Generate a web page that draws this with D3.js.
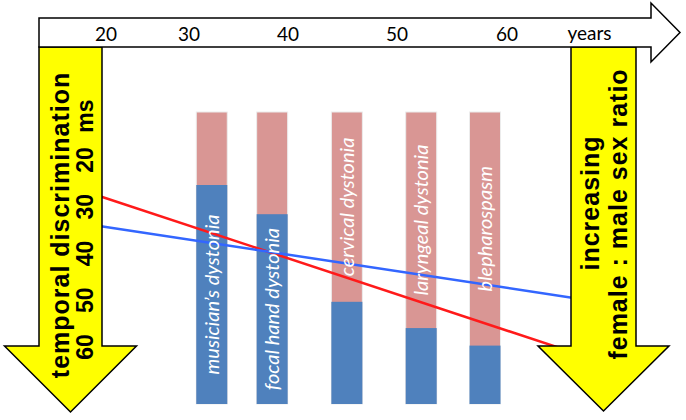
<!DOCTYPE html>
<html>
<head>
<meta charset="utf-8">
<script src="https://cdn.jsdelivr.net/npm/d3@7"></script>
<style>
  html, body { margin: 0; padding: 0; background: #fff; }
  svg { display: block; }
</style>
</head>
<body>
<div id="chart"></div>
<script>
(function() {
	'use strict';

	// Age of onset axis (top arrow)
	const ageTicks = [20, 30, 40, 50, 60];
	// Temporal discrimination threshold axis (left arrow), ms
	const msTicks = [60, 50, 40, 30, 20];

	// Dystonia types, mean age of onset, percentage male
	const disorders = ['musician’s dystonia', 'focal hand dystonia', 'cervical dystonia', 'laryngeal dystonia', 'blepharospasm'];
	const onsetAge = [32.3, 38.4, 45.4, 52.2, 58.0];
	const malePct = [75, 65, 35, 26, 20];

	// Temporal discrimination trend lines: [age, ms]
	const redLine = [[18, 27.0], [68, 62.7]];
	const blueLine = [[18, 33.8], [68, 50.2]];

	const width = 686;
	const height = 420;

	const svg = d3.select('#chart').append('svg')
		.attr('width', width)
		.attr('height', height);

	const x = d3.scaleLinear().domain(ageTicks).range([106, 189, 288, 397, 507]);
	const yMs = d3.scaleLinear().domain([20, 60]).range([160, 347]);
	const yPct = d3.scaleLinear().domain([0, 100]).range([404, 112]);

	const pink = '#d99694';
	const blue = '#4f81bd';
	const barW = 31;

	const barData = disorders.map((name, i) => ({ name, age: onsetAge[i], male: malePct[i] }));

	// Bars: pink (female) on top, blue (male) from the bottom
	const bars = svg.append('g').selectAll('g')
		.data(barData)
		.enter()
		.append('g');

	bars.append('rect')
		.attr('x', d => x(d.age) - barW / 2)
		.attr('y', yPct(100))
		.attr('width', barW)
		.attr('height', yPct(0) - yPct(100))
		.attr('fill', pink)
		.attr('stroke', '#ececec')
		.attr('stroke-width', 1);

	bars.append('rect')
		.attr('x', d => x(d.age) - barW / 2)
		.attr('y', d => yPct(d.male))
		.attr('width', barW)
		.attr('height', d => yPct(0) - yPct(d.male))
		.attr('fill', blue);

	// Trend lines
	const line = d3.line()
		.x(d => x(d[0]))
		.y(d => yMs(d[1]));

	svg.append('path')
		.attr('d', line(redLine))
		.attr('fill', 'none')
		.attr('stroke', '#ff1a1a')
		.attr('stroke-width', 2.5);

	svg.append('path')
		.attr('d', line(blueLine))
		.attr('fill', 'none')
		.attr('stroke', '#3366ff')
		.attr('stroke-width', 2.5);

	// Bar labels sit in the larger of the two segments
	svg.append('g').selectAll('text')
		.data(barData)
		.enter()
		.append('text')
		.attr('transform', d => {
			const cy = d.male >= 50 ? (yPct(d.male) + yPct(0)) / 2 : (yPct(100) + yPct(d.male)) / 2;
			return `translate(${x(d.age)}, ${cy}) rotate(-90)`;
		})
		.attr('text-anchor', 'middle')
		.attr('dy', '0.35em')
		.style('font-family', 'Lato, "Open Sans", sans-serif')
		.style('font-style', 'italic')
		.style('font-size', '20px')
		.style('fill', '#fff')
		.text(d => d.name);

	// Down arrows
	function downArrow(cx, top, baseY, tipY, shaftHalf, headHalf) {
		const p = d3.path();
		p.moveTo(cx - shaftHalf, top);
		p.lineTo(cx + shaftHalf, top);
		p.lineTo(cx + shaftHalf, baseY);
		p.lineTo(cx + headHalf, baseY);
		p.lineTo(cx, tipY);
		p.lineTo(cx - headHalf, baseY);
		p.lineTo(cx - shaftHalf, baseY);
		p.closePath();
		return p.toString();
	}

	svg.append('path')
		.attr('d', downArrow(70.5, 47, 346, 412, 31.5, 66))
		.attr('fill', '#ffff00')
		.attr('stroke', '#000')
		.attr('stroke-width', 1.5);

	svg.append('path')
		.attr('d', downArrow(603.5, 47, 346, 411, 32.5, 65.5))
		.attr('fill', '#ffff00')
		.attr('stroke', '#000')
		.attr('stroke-width', 1.5);

	// Top arrow (age)
	const tp = d3.path();
	tp.moveTo(39, 18);
	tp.lineTo(651, 18);
	tp.lineTo(651, 3);
	tp.lineTo(680, 32.5);
	tp.lineTo(651, 62);
	tp.lineTo(651, 47);
	tp.lineTo(39, 47);
	tp.closePath();
	svg.append('path')
		.attr('d', tp.toString())
		.attr('fill', '#fff')
		.attr('stroke', '#000')
		.attr('stroke-width', 1.5);

	const tickFont = 'Lato, "Open Sans", sans-serif';
	svg.append('g').selectAll('text')
		.data(ageTicks)
		.enter()
		.append('text')
		.attr('x', d => x(d))
		.attr('y', 41)
		.attr('text-anchor', 'middle')
		.style('font-family', tickFont)
		.style('font-size', '19px')
		.style('fill', '#000')
		.text(d => d);

	svg.append('text')
		.attr('x', x(67.5))
		.attr('y', 40)
		.attr('text-anchor', 'middle')
		.style('font-family', tickFont)
		.style('font-size', '19px')
		.style('fill', '#000')
		.text('years');

	// Arrow texts
	const arrowFont = '"Liberation Sans", Arial, sans-serif';

	svg.append('text')
		.attr('transform', 'translate(69, 225) rotate(-90)')
		.attr('text-anchor', 'middle')
		.style('font-family', arrowFont)
		.style('font-weight', 'bold')
		.style('font-size', '25px')
		.style('letter-spacing', '1px')
		.text('temporal discrimination');

	svg.append('g').selectAll('text')
		.data(msTicks)
		.enter()
		.append('text')
		.attr('transform', d => `translate(93, ${yMs(d)}) rotate(-90)`)
		.attr('text-anchor', 'middle')
		.style('font-family', arrowFont)
		.style('font-weight', 'bold')
		.style('font-size', '23px')
		.text(d => d);

	svg.append('text')
		.attr('transform', `translate(93, ${yMs(20) - 44}) rotate(-90)`)
		.attr('text-anchor', 'middle')
		.style('font-family', arrowFont)
		.style('font-weight', 'bold')
		.style('font-size', '23px')
		.text('ms');

	svg.append('text')
		.attr('transform', 'translate(599, 203) rotate(-90)')
		.attr('text-anchor', 'middle')
		.style('font-family', arrowFont)
		.style('font-weight', 'bold')
		.style('font-size', '25px')
		.style('letter-spacing', '1px')
		.text('increasing');

	svg.append('text')
		.attr('transform', 'translate(627, 214) rotate(-90)')
		.attr('text-anchor', 'middle')
		.style('font-family', arrowFont)
		.style('font-weight', 'bold')
		.style('font-size', '25px')
		.style('letter-spacing', '1px')
		.text('female : male sex ratio');
})();
</script>
</body>
</html>
